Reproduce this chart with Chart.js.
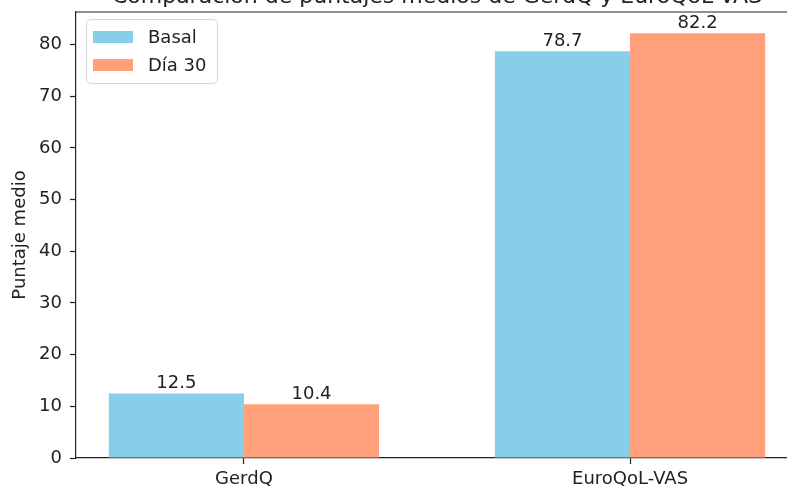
<!DOCTYPE html>
<html>
<head>
<meta charset="utf-8">
<script src="https://cdn.jsdelivr.net/npm/chart.js@4"></script>
<style>
  html, body { margin: 0; padding: 0; background: #fff; overflow: hidden; }
  #wrap { width: 820px; height: 491px; }
</style>
</head>
<body>
<div id="wrap"><canvas id="chart" width="820" height="491"></canvas></div>
<script>
// ---------- Data ----------
const categories = ["GerdQ", "EuroQoL-VAS"];
const basal = [12.5, 78.7];
const dia30 = [10.4, 82.2];
const seriesLabels = ["Basal", "Día 30"];
const yTicks = [0, 10, 20, 30, 40, 50, 60, 70, 80];
const titleText = "Comparación de puntajes medios de GerdQ y EuroQoL-VAS";

// ---------- Style ----------
const FONT = "'DejaVu Sans', sans-serif";
const INK = "#222";
const COLORS = ["#87CEEB", "#FFA07A"];

// ---------- Plugins ----------
const frame = {
  id: "frame",
  afterDraw(chart) {
    const { ctx, chartArea: a } = chart;
    ctx.save();
    ctx.strokeStyle = INK;
    ctx.lineWidth = 1.2;
    ctx.beginPath();
    ctx.moveTo(a.left, a.top);
    ctx.lineTo(a.right, a.top);
    ctx.lineTo(a.right, a.bottom);
    ctx.stroke();

    // title, mostly above the visible area
    ctx.fillStyle = INK;
    ctx.font = "22px " + FONT;
    ctx.textAlign = "center";
    ctx.textBaseline = "alphabetic";
    ctx.fillText(titleText, (a.left + a.right) / 2, 3);
    ctx.restore();
  }
};

const valueLabels = {
  id: "valueLabels",
  afterDatasetsDraw(chart) {
    const { ctx } = chart;
    ctx.save();
    ctx.fillStyle = INK;
    ctx.font = "18px " + FONT;
    ctx.textAlign = "center";
    ctx.textBaseline = "alphabetic";
    chart.data.datasets.forEach((ds, di) => {
      chart.getDatasetMeta(di).data.forEach((bar, i) => {
        ctx.fillText(ds.data[i].y.toFixed(1), bar.x, bar.y - 5);
      });
    });
    ctx.restore();
  }
};

const legendBox = {
  id: "legendBox",
  afterDraw(chart) {
    const { ctx, chartArea: a } = chart;
    const x = a.left + 10, y = a.top + 7, w = 131, h = 64;
    ctx.save();
    ctx.fillStyle = "rgba(255,255,255,0.8)";
    ctx.strokeStyle = "#d6d6d6";
    ctx.lineWidth = 1;
    ctx.beginPath();
    ctx.roundRect(x + 0.5, y + 0.5, w, h, 4);
    ctx.fill();
    ctx.stroke();
    ctx.font = "18px " + FONT;
    ctx.textBaseline = "alphabetic";
    chart.data.datasets.forEach((ds, i) => {
      const ry = y + 12 + i * 28;
      ctx.fillStyle = ds.backgroundColor;
      ctx.fillRect(x + 7, ry, 40, 12);
      ctx.fillStyle = INK;
      ctx.fillText(ds.label, x + 62, ry + 12);
    });
    ctx.restore();
  }
};

// ---------- Chart ----------
new Chart(document.getElementById("chart"), {
  type: "bar",
  data: {
    datasets: [basal, dia30].map((vals, di) => ({
      label: seriesLabels[di],
      data: vals.map((v, i) => ({ x: i, y: v })),
      backgroundColor: COLORS[di],
      borderWidth: 0,
      categoryPercentage: 0.7,
      barPercentage: 1.0
    }))
  },
  options: {
    responsive: false,
    animation: false,
    devicePixelRatio: 1,
    layout: { padding: { left: 0, top: 12, right: 22, bottom: 0 } },
    plugins: { legend: { display: false }, tooltip: { enabled: false } },
    scales: {
      x: {
        type: "linear",
        min: -0.435,
        max: 1.435,
        offset: false,
        afterBuildTicks: s => { s.ticks = categories.map((c, i) => ({ value: i })); },
        afterFit: s => { s.height = 33; s.paddingLeft = 0; s.paddingRight = 0; },
        ticks: {
          callback: v => categories[v],
          font: { family: FONT, size: 18 },
          color: INK,
          padding: 5,
          maxRotation: 0,
          autoSkip: false
        },
        grid: { drawOnChartArea: false, offset: false, tickLength: 6, color: INK, tickWidth: 1.2 },
        border: { display: true, color: INK, width: 1.2 }
      },
      y: {
        min: 0,
        max: 86.3,
        afterBuildTicks: s => { s.ticks = yTicks.map(v => ({ value: v })); },
        afterFit: s => { s.width = 76; s.paddingTop = 0; s.paddingBottom = 0; },
        ticks: {
          font: { family: FONT, size: 18 },
          color: INK,
          padding: 8
        },
        title: {
          display: true,
          text: "Puntaje medio",
          font: { family: FONT, size: 18 },
          color: INK,
          padding: { top: 10, bottom: 0 }
        },
        grid: { drawOnChartArea: false, tickLength: 6, color: INK, tickWidth: 1.2 },
        border: { display: true, color: INK, width: 1.2 }
      }
    }
  },
  plugins: [frame, valueLabels, legendBox]
});
</script>
</body>
</html>
